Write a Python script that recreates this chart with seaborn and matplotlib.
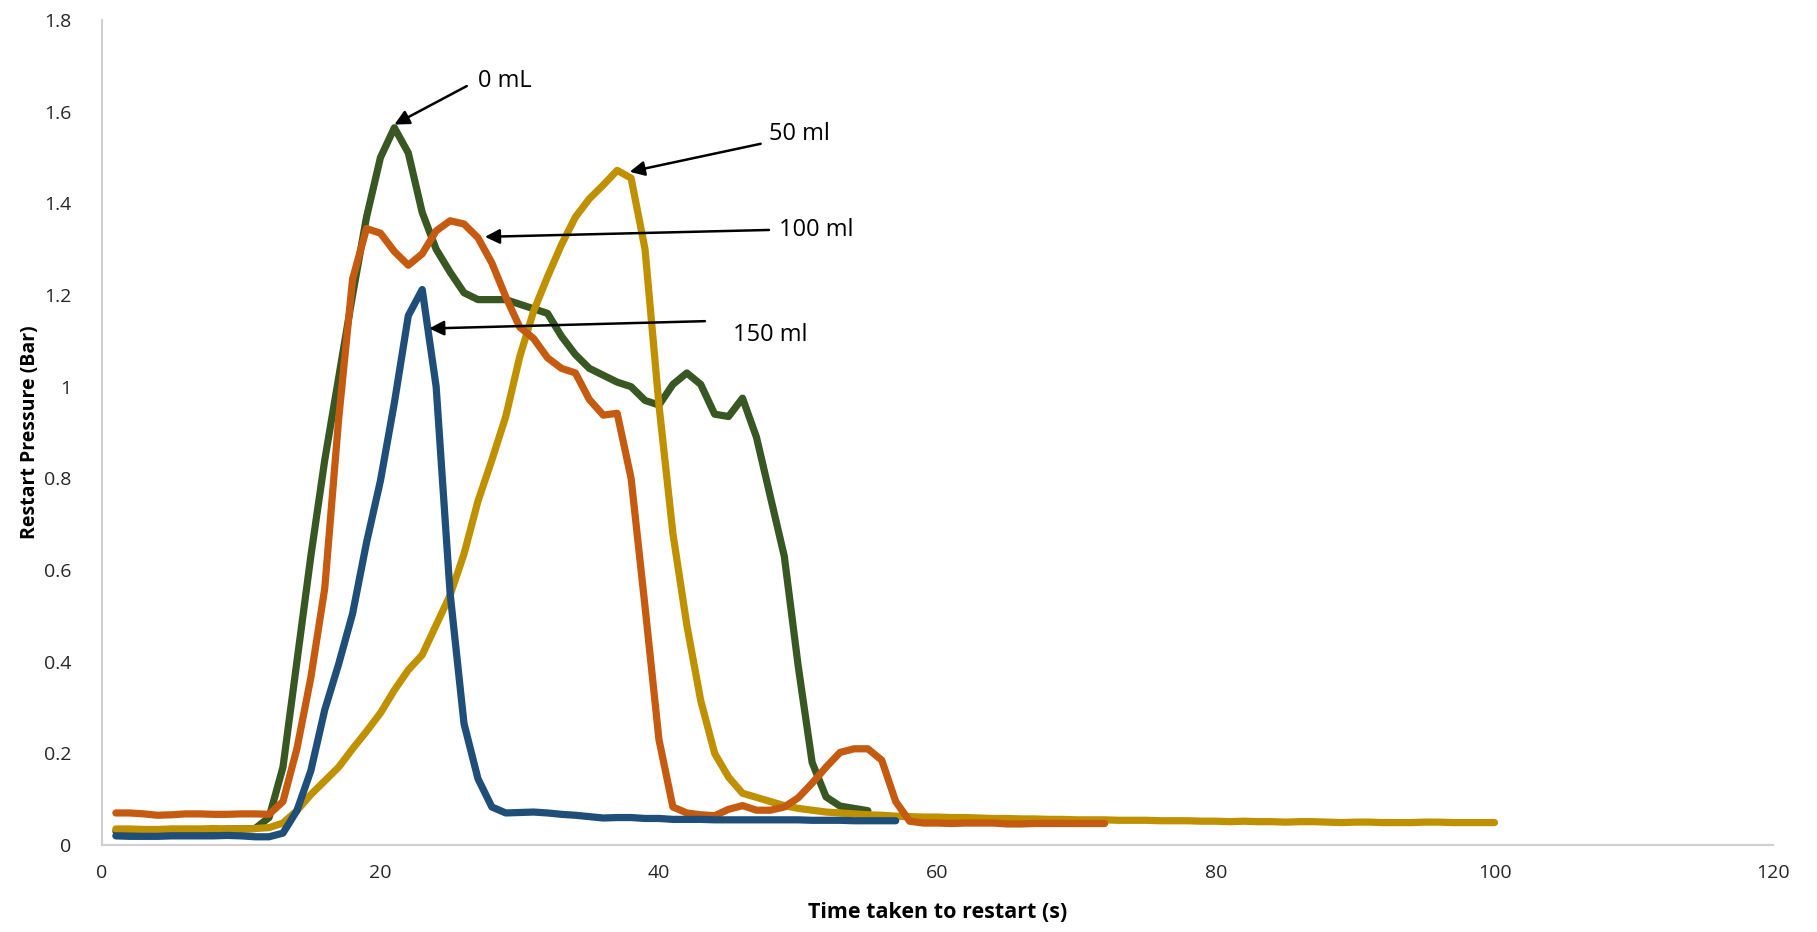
import numpy as np
import pandas as pd
import matplotlib
matplotlib.use("Agg")
import matplotlib.pyplot as plt
import seaborn as sns

# Restart pressure traces (Bar) sampled once per second
p_0ml = [0.030, 0.032, 0.033, 0.033, 0.034, 0.034, 0.034, 0.033, 0.035, 0.035,
         0.036, 0.060, 0.170, 0.400, 0.630, 0.840, 1.020, 1.200, 1.370, 1.500,
         1.565, 1.510, 1.380, 1.300, 1.250, 1.205, 1.190, 1.190, 1.190, 1.180,
         1.170, 1.160, 1.110, 1.070, 1.040, 1.025, 1.010, 1.000, 0.970, 0.960,
         1.005, 1.030, 1.005, 0.940, 0.935, 0.975, 0.890, 0.760, 0.630, 0.390,
         0.180, 0.105, 0.085, 0.080, 0.075]

p_50ml = [0.035, 0.035, 0.034, 0.034, 0.035, 0.035, 0.035, 0.036, 0.035, 0.035,
          0.036, 0.038, 0.048, 0.075, 0.110, 0.140, 0.170, 0.210, 0.248, 0.288,
          0.338, 0.382, 0.415, 0.480, 0.545, 0.635, 0.750, 0.840, 0.935, 1.065,
          1.165, 1.240, 1.310, 1.370, 1.410, 1.440, 1.472, 1.455, 1.300, 0.960,
          0.680, 0.480, 0.315, 0.200, 0.148, 0.113, 0.104, 0.095, 0.086, 0.080,
          0.076, 0.072, 0.070, 0.068, 0.066, 0.065, 0.063, 0.062, 0.061, 0.061,
          0.060, 0.060, 0.059, 0.058, 0.058, 0.057, 0.057, 0.056, 0.056, 0.055,
          0.055, 0.055, 0.054, 0.054, 0.054, 0.053, 0.053, 0.053, 0.052, 0.052,
          0.051, 0.052, 0.051, 0.051, 0.050, 0.051, 0.051, 0.050, 0.049, 0.050,
          0.050, 0.049, 0.049, 0.049, 0.050, 0.050, 0.049, 0.049, 0.049, 0.049]

p_100ml = [0.070, 0.070, 0.068, 0.065, 0.066, 0.068, 0.068, 0.067, 0.067, 0.068,
           0.068, 0.067, 0.095, 0.210, 0.365, 0.560, 0.930, 1.235, 1.345, 1.335,
           1.295, 1.265, 1.290, 1.340, 1.362, 1.355, 1.325, 1.270, 1.196, 1.130,
           1.105, 1.063, 1.040, 1.030, 0.972, 0.938, 0.942, 0.800, 0.520, 0.230,
           0.083, 0.070, 0.066, 0.064, 0.078, 0.086, 0.076, 0.076, 0.083, 0.103,
           0.135, 0.170, 0.202, 0.210, 0.210, 0.185, 0.095, 0.052, 0.048, 0.048,
           0.047, 0.048, 0.048, 0.048, 0.046, 0.046, 0.047, 0.047, 0.047, 0.047,
           0.047, 0.047]

p_150ml = [0.020, 0.019, 0.019, 0.019, 0.020, 0.020, 0.020, 0.020, 0.021, 0.020,
           0.018, 0.018, 0.026, 0.075, 0.162, 0.295, 0.395, 0.505, 0.660, 0.795,
           0.965, 1.155, 1.212, 1.000, 0.550, 0.265, 0.145, 0.083, 0.070, 0.071,
           0.072, 0.070, 0.067, 0.065, 0.062, 0.059, 0.060, 0.060, 0.058, 0.058,
           0.056, 0.056, 0.056, 0.055, 0.055, 0.055, 0.055, 0.055, 0.055, 0.055,
           0.054, 0.054, 0.054, 0.053, 0.053, 0.053, 0.053]

series_names = ["0 mL", "50 ml", "100 ml", "150 ml"]
series_values = [p_0ml, p_50ml, p_100ml, p_150ml]
series_colors = ["#385723", "#BF9000", "#C55A11", "#1F4E79"]

x_ticks = [0, 20, 40, 60, 80, 100, 120]
y_ticks = [0, 0.2, 0.4, 0.6, 0.8, 1.0, 1.2, 1.4, 1.6, 1.8]
y_tick_labels = ["0", "0.2", "0.4", "0.6", "0.8", "1", "1.2", "1.4", "1.6", "1.8"]

# Callout labels: text position, arrow tail, arrow head (data coords)
callouts = [
    ("0 mL",   (27.0, 1.668), (26.2, 1.656), (21.0, 1.572)),
    ("50 ml",  (47.9, 1.552), (47.3, 1.530), (37.9, 1.469)),
    ("100 ml", (48.6, 1.342), (47.9, 1.342), (27.5, 1.327)),
    ("150 ml", (45.3, 1.112), (43.3, 1.143), (23.5, 1.127)),
]

frames = []
for name, vals in zip(series_names, series_values):
    frames.append(pd.DataFrame({
        "time": np.arange(1, len(vals) + 1),
        "pressure": vals,
        "volume": name,
    }))
df = pd.concat(frames, ignore_index=True)

sns.set_theme(style="white")
plt.rcParams["font.family"] = ["Open Sans", "DejaVu Sans"]

fig = plt.figure(figsize=(18.17, 9.32), dpi=100)
ax = fig.add_axes([0.0561, 0.0933, 0.9197, 0.8852])

sns.lineplot(data=df, x="time", y="pressure", hue="volume",
             hue_order=series_names, palette=series_colors,
             linewidth=5.2, legend=False, ax=ax,
             solid_capstyle="round", solid_joinstyle="round")

ax.set_xlim(0, 120)
ax.set_ylim(0, 1.8)
ax.set_xticks(x_ticks)
ax.set_xticklabels([str(t) for t in x_ticks])
ax.set_yticks(y_ticks)
ax.set_yticklabels(y_tick_labels)
ax.tick_params(axis="both", length=0, labelsize=14, labelcolor="#262626")
ax.tick_params(axis="y", pad=22)
ax.tick_params(axis="x", pad=14)

for side in ["top", "right"]:
    ax.spines[side].set_visible(False)
for side in ["left", "bottom"]:
    ax.spines[side].set_color("#D0D0D0")
    ax.spines[side].set_linewidth(1.5)

ax.set_xlabel("Time taken to restart (s)", fontsize=15.5, fontweight="bold",
              color="black", labelpad=14)
ax.set_ylabel("Restart Pressure (Bar)", fontsize=14, fontweight="bold",
              color="black", labelpad=3)

for label, text_xy, tail_xy, head_xy in callouts:
    ax.annotate("", xy=head_xy, xytext=tail_xy,
                arrowprops=dict(arrowstyle="-|>", color="black", lw=1.8,
                                mutation_scale=22, shrinkA=0, shrinkB=0))
    ax.text(text_xy[0], text_xy[1], label, fontsize=17, color="black",
            ha="left", va="center")

fig.savefig("out.png", dpi=100)
